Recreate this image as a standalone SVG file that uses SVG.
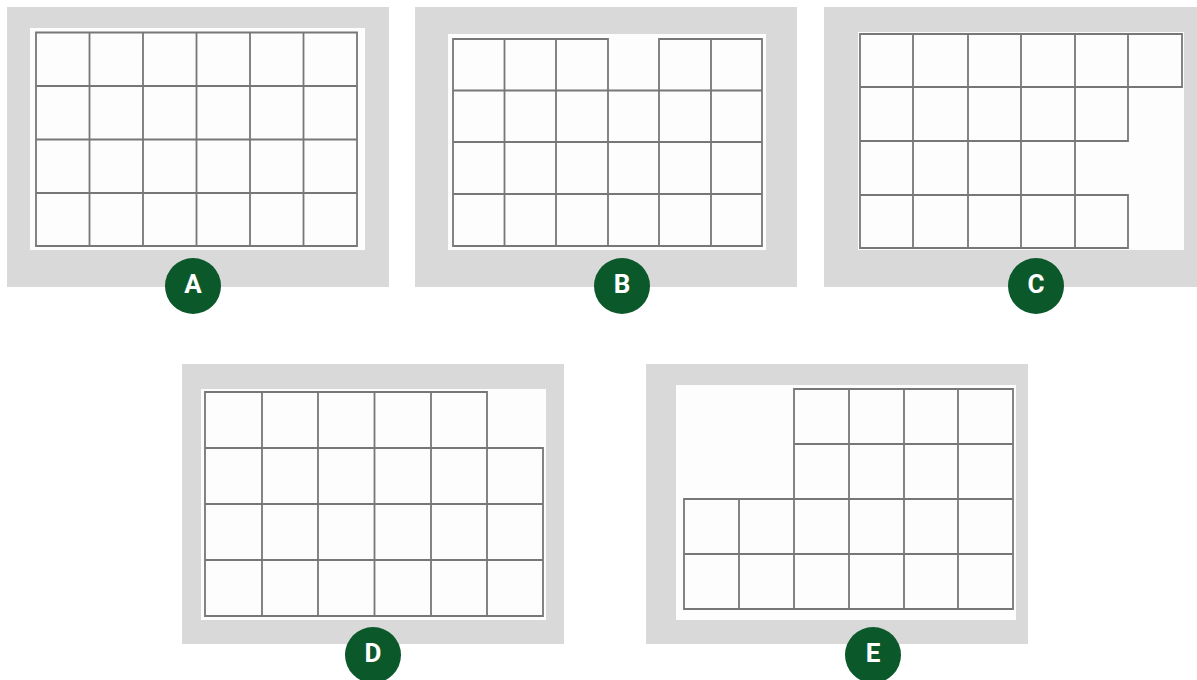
<svg xmlns="http://www.w3.org/2000/svg" width="1197" height="680" viewBox="0 0 1197 680">
<style>
.bg{fill:#d9d9d9}
.in{fill:#fdfdfd}
.g{fill:none;stroke:#777777;stroke-width:1.8;stroke-linecap:square}
.badge{fill:#0b582b}
.lbl{fill:#ffffff;font-family:Roboto,"Liberation Sans",sans-serif;font-weight:bold;font-size:26px;text-anchor:middle;dominant-baseline:central}
</style>
<rect width="1197" height="680" fill="#ffffff"/>
<g id="panelA">
<rect class="bg" x="7" y="7" width="382" height="280"/>
<rect class="in" x="30" y="28" width="335" height="222"/>
<path class="g" d="M36 32.5H357M36 86H357M36 139.5H357M36 193H357M36 246H357M36 32.5V246M89.5 32.5V246M143 32.5V246M196.5 32.5V246M250 32.5V246M303.5 32.5V246M357 32.5V246"/>
<circle class="badge" cx="193" cy="286" r="28"/>
<text class="lbl" x="193" y="284">A</text>
</g>
<g id="panelB">
<rect class="bg" x="415" y="7" width="382" height="280"/>
<rect class="in" x="448" y="34" width="318" height="216"/>
<path class="g" d="M453 39H608M659 39H762M453 90.5H762M453 142H762M453 194H762M453 246H762M453 39V246M504.5 39V246M556 39V246M608 39V246M659 39V246M711 39V246M762 39V246"/>
<circle class="badge" cx="622" cy="286" r="28"/>
<text class="lbl" x="622" y="284">B</text>
</g>
<g id="panelC">
<rect class="bg" x="824" y="7" width="373" height="280"/>
<rect class="in" x="858" y="32" width="326" height="218"/>
<path class="g" d="M860 34H1182M860 87H1182M860 141H1128M860 195H1128M860 248H1128M860 34V248M913 34V248M968 34V248M1021 34V248M1075 34V248M1128 34V141M1128 195V248M1182 34V87"/>
<circle class="badge" cx="1036" cy="286" r="28"/>
<text class="lbl" x="1036" y="284">C</text>
</g>
<g id="panelD">
<rect class="bg" x="182" y="364" width="382" height="280"/>
<rect class="in" x="201" y="389" width="345" height="231"/>
<path class="g" d="M205 392H487M205 448H543M205 504H543M205 560H543M205 616H543M205 392V616M262 392V616M318 392V616M374.5 392V616M431 392V616M487 392V616M543 448V616"/>
<circle class="badge" cx="373" cy="655" r="28"/>
<text class="lbl" x="373" y="653">D</text>
</g>
<g id="panelE">
<rect class="bg" x="646" y="364" width="382" height="280"/>
<rect class="in" x="676" y="385" width="340" height="235"/>
<path class="g" d="M794 389H1013M794 444H1013M684 499H1013M684 554H1013M684 609H1013M684 499V609M739 499V609M794 389V609M849 389V609M904 389V609M958 389V609M1013 389V609"/>
<circle class="badge" cx="873" cy="655" r="28"/>
<text class="lbl" x="873" y="653">E</text>
</g>
</svg>
